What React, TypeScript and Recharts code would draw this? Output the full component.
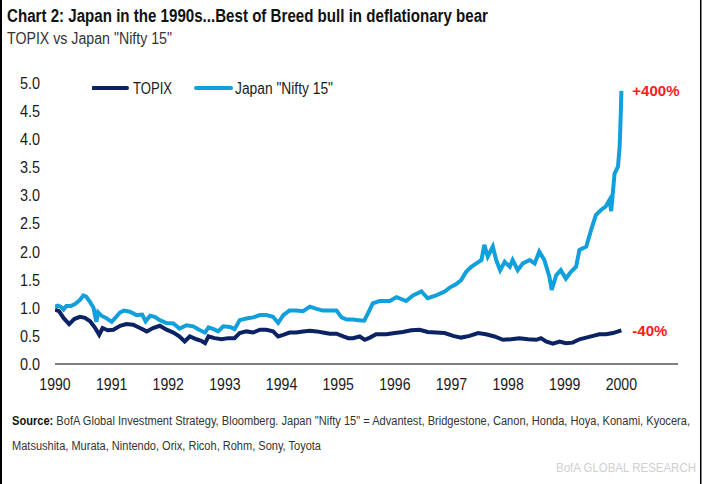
import React from 'react';
import { LineChart, Line, XAxis, YAxis, Legend, LabelList } from 'recharts';

const yearTicks = [1990, 1991, 1992, 1993, 1994, 1995, 1996, 1997, 1998, 1999, 2000];
const valueTicks = [0, 0.5, 1, 1.5, 2, 2.5, 3, 3.5, 4, 4.5, 5];

const topixDates = [
  1990.0, 1990.07, 1990.15, 1990.25, 1990.34, 1990.44, 1990.53, 1990.62, 1990.71, 1990.78, 1990.84, 1990.93,
  1991.03, 1991.15, 1991.26, 1991.38, 1991.5, 1991.62, 1991.73, 1991.85, 1991.97,
  1992.09, 1992.2, 1992.29, 1992.38, 1992.5, 1992.59, 1992.65, 1992.71, 1992.82, 1992.94,
  1993.06, 1993.17, 1993.26, 1993.38, 1993.5, 1993.62, 1993.73, 1993.85, 1993.94,
  1994.03, 1994.14, 1994.26, 1994.38, 1994.5, 1994.62, 1994.73, 1994.85, 1994.97,
  1995.09, 1995.18, 1995.26, 1995.38, 1995.47, 1995.56, 1995.67, 1995.85,
  1996.0, 1996.14, 1996.29, 1996.44, 1996.58, 1996.73, 1996.88,
  1997.03, 1997.17, 1997.32, 1997.47, 1997.61, 1997.76, 1997.91,
  1998.05, 1998.2, 1998.35, 1998.5, 1998.58, 1998.67, 1998.79, 1998.91,
  1999.02, 1999.14, 1999.26, 1999.38, 1999.5, 1999.61, 1999.73, 1999.85, 2000.0,
];
const topixValues = [
  0.97, 0.94, 0.82, 0.71, 0.8, 0.84, 0.82, 0.76, 0.64, 0.52, 0.64, 0.6,
  0.61, 0.68, 0.71, 0.7, 0.64, 0.58, 0.64, 0.68, 0.61,
  0.56, 0.49, 0.4, 0.49, 0.44, 0.41, 0.37, 0.49, 0.46, 0.44,
  0.46, 0.46, 0.55, 0.58, 0.56, 0.61, 0.61, 0.58, 0.49,
  0.52, 0.56, 0.56, 0.58, 0.59, 0.58, 0.56, 0.54, 0.54,
  0.49, 0.46, 0.46, 0.49, 0.43, 0.47, 0.53, 0.53,
  0.55, 0.57, 0.6, 0.61, 0.57, 0.56, 0.55,
  0.5, 0.47, 0.5, 0.55, 0.53, 0.49, 0.43,
  0.44, 0.46, 0.44, 0.43, 0.46, 0.4, 0.36, 0.4,
  0.37, 0.38, 0.44, 0.47, 0.5, 0.53, 0.53, 0.55, 0.6,
];

const niftyDates = [
  1990.0, 1990.05, 1990.1, 1990.15, 1990.2, 1990.28, 1990.36, 1990.44, 1990.5, 1990.55, 1990.62, 1990.68,
  1990.73, 1990.76, 1990.82, 1990.9,
  1991.0, 1991.08, 1991.15, 1991.22, 1991.32, 1991.44, 1991.54, 1991.6, 1991.68, 1991.76, 1991.85, 1991.97,
  1992.09, 1992.2, 1992.32, 1992.44, 1992.56, 1992.65, 1992.71, 1992.8, 1992.88, 1992.97,
  1993.09, 1993.17, 1993.26, 1993.38, 1993.5, 1993.62, 1993.73, 1993.85, 1993.94,
  1994.03, 1994.14, 1994.26, 1994.38, 1994.5, 1994.62, 1994.73, 1994.85, 1994.97,
  1995.06, 1995.15, 1995.26, 1995.36, 1995.46, 1995.53, 1995.61, 1995.73, 1995.91,
  1996.03, 1996.2, 1996.32, 1996.47, 1996.58, 1996.73, 1996.88, 1996.97,
  1997.08, 1997.17, 1997.26, 1997.35, 1997.44, 1997.53, 1997.58, 1997.64, 1997.73, 1997.79, 1997.86, 1997.94,
  1998.03, 1998.08, 1998.17, 1998.26, 1998.38, 1998.47, 1998.55, 1998.64, 1998.73, 1998.77, 1998.85, 1998.93,
  1999.02, 1999.11, 1999.2, 1999.26, 1999.38, 1999.47, 1999.55, 1999.64, 1999.72, 1999.79, 1999.82, 1999.88,
  1999.94, 1999.97, 1999.99, 2000.0,
];
const niftyValues = [
  1.02, 1.04, 1.02, 0.97, 1.03, 1.03, 1.07, 1.14, 1.22, 1.2, 1.1, 1.0,
  0.75, 0.92, 0.86, 0.82,
  0.75, 0.84, 0.92, 0.95, 0.93, 0.87, 0.88, 0.76, 0.86, 0.84, 0.78, 0.73,
  0.72, 0.63, 0.69, 0.67, 0.6, 0.56, 0.65, 0.62, 0.58, 0.67,
  0.66, 0.62, 0.78, 0.81, 0.83, 0.87, 0.87, 0.84, 0.73,
  0.87, 0.95, 0.95, 0.94, 1.02, 0.98, 0.95, 0.95, 0.95,
  0.83, 0.79, 0.79, 0.78, 0.77, 0.91, 1.08, 1.12, 1.12,
  1.19, 1.12, 1.22, 1.29, 1.17, 1.22, 1.29, 1.36,
  1.42, 1.49, 1.64, 1.73, 1.79, 1.85, 2.12, 1.91, 2.09, 1.85, 1.67, 1.82,
  1.73, 1.85, 1.67, 1.79, 1.85, 1.79, 2.0, 1.85, 1.55, 1.32, 1.58, 1.67,
  1.52, 1.64, 1.73, 2.03, 2.09, 2.4, 2.65, 2.74, 2.8, 2.92, 2.72, 3.39,
  3.51, 3.87, 4.46, 4.86,
];

const seriesNames = ['TOPIX', 'Japan "Nifty 15"'];
const endLabels = ['-40%', '+400%'];

const NAVY = '#0B2265';
const LIGHT = '#12A0DC';
const RED = '#FF1A1A';
const SANS = '"Liberation Sans", Arial, sans-serif';

const topixData = topixDates.map((d, i) => ({ date: d, value: topixValues[i] }));
const niftyData = niftyDates.map((d, i) => ({ date: d, value: niftyValues[i] }));

const endLabel = (count: number, text: string) => (props: any) => {
  if (props.index !== count - 1) return null;
  return (
    <text
      x={props.x + 11}
      y={props.y}
      dy="0.35em"
      fill={RED}
      fontFamily={SANS}
      fontWeight="bold"
      fontSize={15}
    >
      {text}
    </text>
  );
};

const XTick = (props: any) => {
  const { x, y, payload } = props;
  return (
    <g transform={`translate(${x},${y})`}>
      <text transform="scale(0.83,1)" textAnchor="middle" dy="0.71em" fontSize={17} fontFamily={SANS} fill="#1a1a1a">
        {payload.value}
      </text>
    </g>
  );
};

const YTick = (props: any) => {
  const { x, y, payload } = props;
  return (
    <g transform={`translate(${x},${y})`}>
      <text transform="scale(0.85,1)" textAnchor="end" dy="0.35em" fontSize={17} fontFamily={SANS} fill="#1a1a1a">
        {Number(payload.value).toFixed(1)}
      </text>
    </g>
  );
};

const renderLegend = () => (
  <svg width={300} height={18} style={{ display: 'block' }}>
    <line x1={1} y1={9} x2={35} y2={9} stroke={NAVY} strokeWidth={4} strokeLinecap="round" />
    <text x={41} y={9} dy="0.36em" fontSize={16} fontFamily={SANS} fill="#1a1a1a" textLength={39} lengthAdjust="spacingAndGlyphs">
      {seriesNames[0]}
    </text>
    <line x1={104} y1={9} x2={139} y2={9} stroke={LIGHT} strokeWidth={4} strokeLinecap="round" />
    <text x={143} y={9} dy="0.36em" fontSize={16} fontFamily={SANS} fill="#1a1a1a" textLength={98} lengthAdjust="spacingAndGlyphs">
      {seriesNames[1]}
    </text>
  </svg>
);

export default function App() {
  return (
    <div style={{ position: 'absolute', left: 0, top: 0, width: 702, height: 484, background: '#fff' }}>
      <LineChart width={702} height={484} margin={{ top: 83, right: 24, bottom: 90, left: 0 }}>
        <XAxis
          dataKey="date"
          type="number"
          domain={[1990, 2001]}
          ticks={yearTicks}
          allowDataOverflow
          height={30}
          tickLine={false}
          tickSize={6}
          tickMargin={8}
          axisLine={{ stroke: '#7f7f7f', strokeWidth: 2 }}
          tick={<XTick />}
        />
        <YAxis
          type="number"
          domain={[0, 5]}
          ticks={valueTicks}
          width={55}
          axisLine={false}
          tickLine={false}
          tickSize={6}
          tickMargin={9}
          tick={<YTick />}
        />
        <Legend
          layout="horizontal"
          verticalAlign="middle"
          align="center"
          content={renderLegend}
          wrapperStyle={{ left: 92, top: 79, width: 300, height: 18 }}
        />
        <Line
          data={topixData}
          dataKey="value"
          name={seriesNames[0]}
          stroke={NAVY}
          strokeWidth={4}
          dot={false}
          isAnimationActive={false}
        >
          <LabelList dataKey="value" content={endLabel(topixData.length, endLabels[0])} />
        </Line>
        <Line
          data={niftyData}
          dataKey="value"
          name={seriesNames[1]}
          stroke={LIGHT}
          strokeWidth={4}
          dot={false}
          isAnimationActive={false}
        >
          <LabelList dataKey="value" content={endLabel(niftyData.length, endLabels[1])} />
        </Line>
      </LineChart>
      <svg
        width={702}
        height={484}
        style={{ position: 'absolute', left: 0, top: 0, pointerEvents: 'none' }}
      >
        <rect x={0} y={0} width={2} height={484} fill="#000" />
        <rect x={700} y={0} width={1.5} height={484} fill="#000" />
        <text
          x={7}
          y={22}
          fontFamily={SANS}
          fontWeight="bold"
          fontSize={18}
          fill="#111"
          textLength={481}
          lengthAdjust="spacingAndGlyphs"
        >
          Chart 2: Japan in the 1990s...Best of Breed bull in deflationary bear
        </text>
        <text
          x={7}
          y={44}
          fontFamily={SANS}
          fontSize={16}
          fill="#333"
          textLength={165}
          lengthAdjust="spacingAndGlyphs"
        >
          TOPIX vs Japan "Nifty 15"
        </text>
        <text
          x={12}
          y={425}
          fontFamily={SANS}
          fontSize={12}
          fill="#333"
          textLength={678}
          lengthAdjust="spacingAndGlyphs"
        >
          <tspan fontWeight="bold" fill="#111">Source:</tspan> BofA Global Investment Strategy, Bloomberg. Japan "Nifty 15" = Advantest, Bridgestone, Canon, Honda, Hoya, Konami, Kyocera,
        </text>
        <text
          x={12}
          y={450}
          fontFamily={SANS}
          fontSize={12}
          fill="#333"
          textLength={309}
          lengthAdjust="spacingAndGlyphs"
        >
          Matsushita, Murata, Nintendo, Orix, Ricoh, Rohm, Sony, Toyota
        </text>
        <text x={556} y={472} fontFamily={SANS} fontSize={12} fill="#d0d0d0" textLength={140} lengthAdjust="spacingAndGlyphs">
          BofA GLOBAL RESEARCH
        </text>
      </svg>
    </div>
  );
}
